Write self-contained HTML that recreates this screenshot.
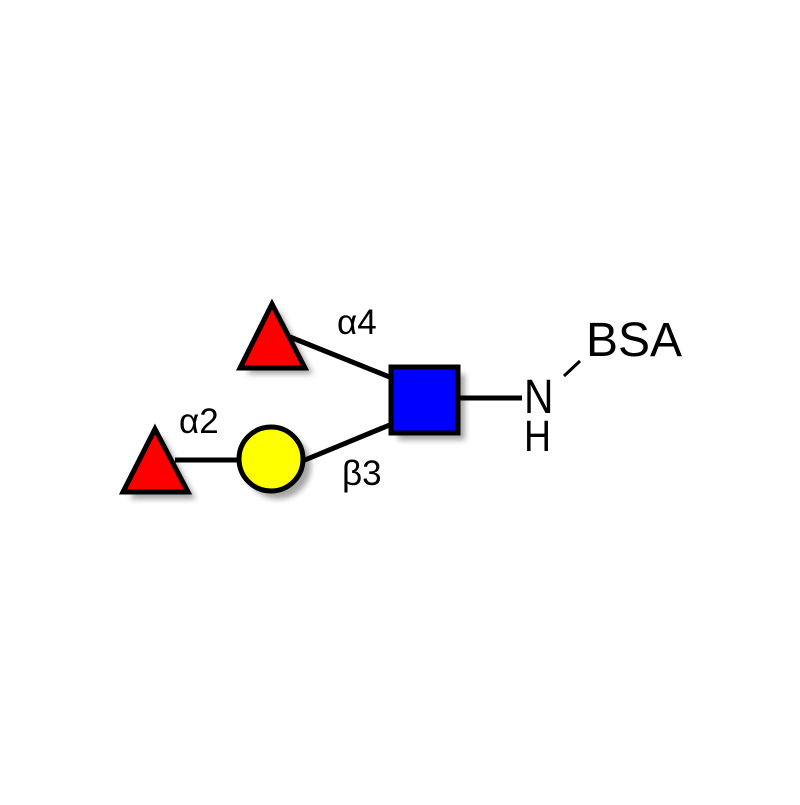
<!DOCTYPE html>
<html><head><style>html,body{margin:0;padding:0;background:#fff;}</style></head>
<body>
<svg width="800" height="800" viewBox="0 0 800 800" xmlns="http://www.w3.org/2000/svg">
<defs><filter id="sh" x="-30%" y="-30%" width="170%" height="170%"><feGaussianBlur stdDeviation="3"/></filter></defs>
<g stroke="#000" stroke-width="5" fill="none">
<line x1="290" y1="337" x2="392" y2="378"/>
<line x1="300" y1="462" x2="392" y2="424"/>
<line x1="175" y1="460" x2="240" y2="460"/>
<line x1="458" y1="398" x2="522" y2="398"/>
</g>
<line x1="564" y1="376" x2="580" y2="361" stroke="#000" stroke-width="3"/>
<g opacity="0.35" filter="url(#sh)" fill="#000">
<polygon points="279,310 313,374 247,374"/>
<rect x="398" y="374" width="67" height="66"/>
<circle cx="278" cy="466" r="33"/>
<polygon points="162,435 196,499 130,499"/>
</g>
<g stroke="#000" stroke-width="5" stroke-linejoin="miter">
<polygon points="272,304 305,368 240,368" fill="#f00"/>
<rect x="391" y="367" width="67" height="66" fill="#0000ff"/>
<circle cx="271" cy="459" r="32" fill="#ffff00"/>
<polygon points="155,429 188,492 123,492" fill="#f00"/>
</g>
<g font-family="Liberation Sans, DejaVu Sans, sans-serif" fill="#000">
<text x="337" y="334" font-size="35">α4</text>
<text x="179" y="433" font-size="35">α2</text>
<text x="342" y="485" font-size="35">β3</text>
<text x="586" y="356" font-size="48">BSA</text>
<text x="524" y="413" font-size="48" transform="translate(524 0) scale(0.85 1) translate(-524 0)">N</text>
<text x="524" y="451" font-size="44" transform="translate(524 0) scale(0.85 1) translate(-524 0)">H</text>
</g>
</svg>
</body></html>
